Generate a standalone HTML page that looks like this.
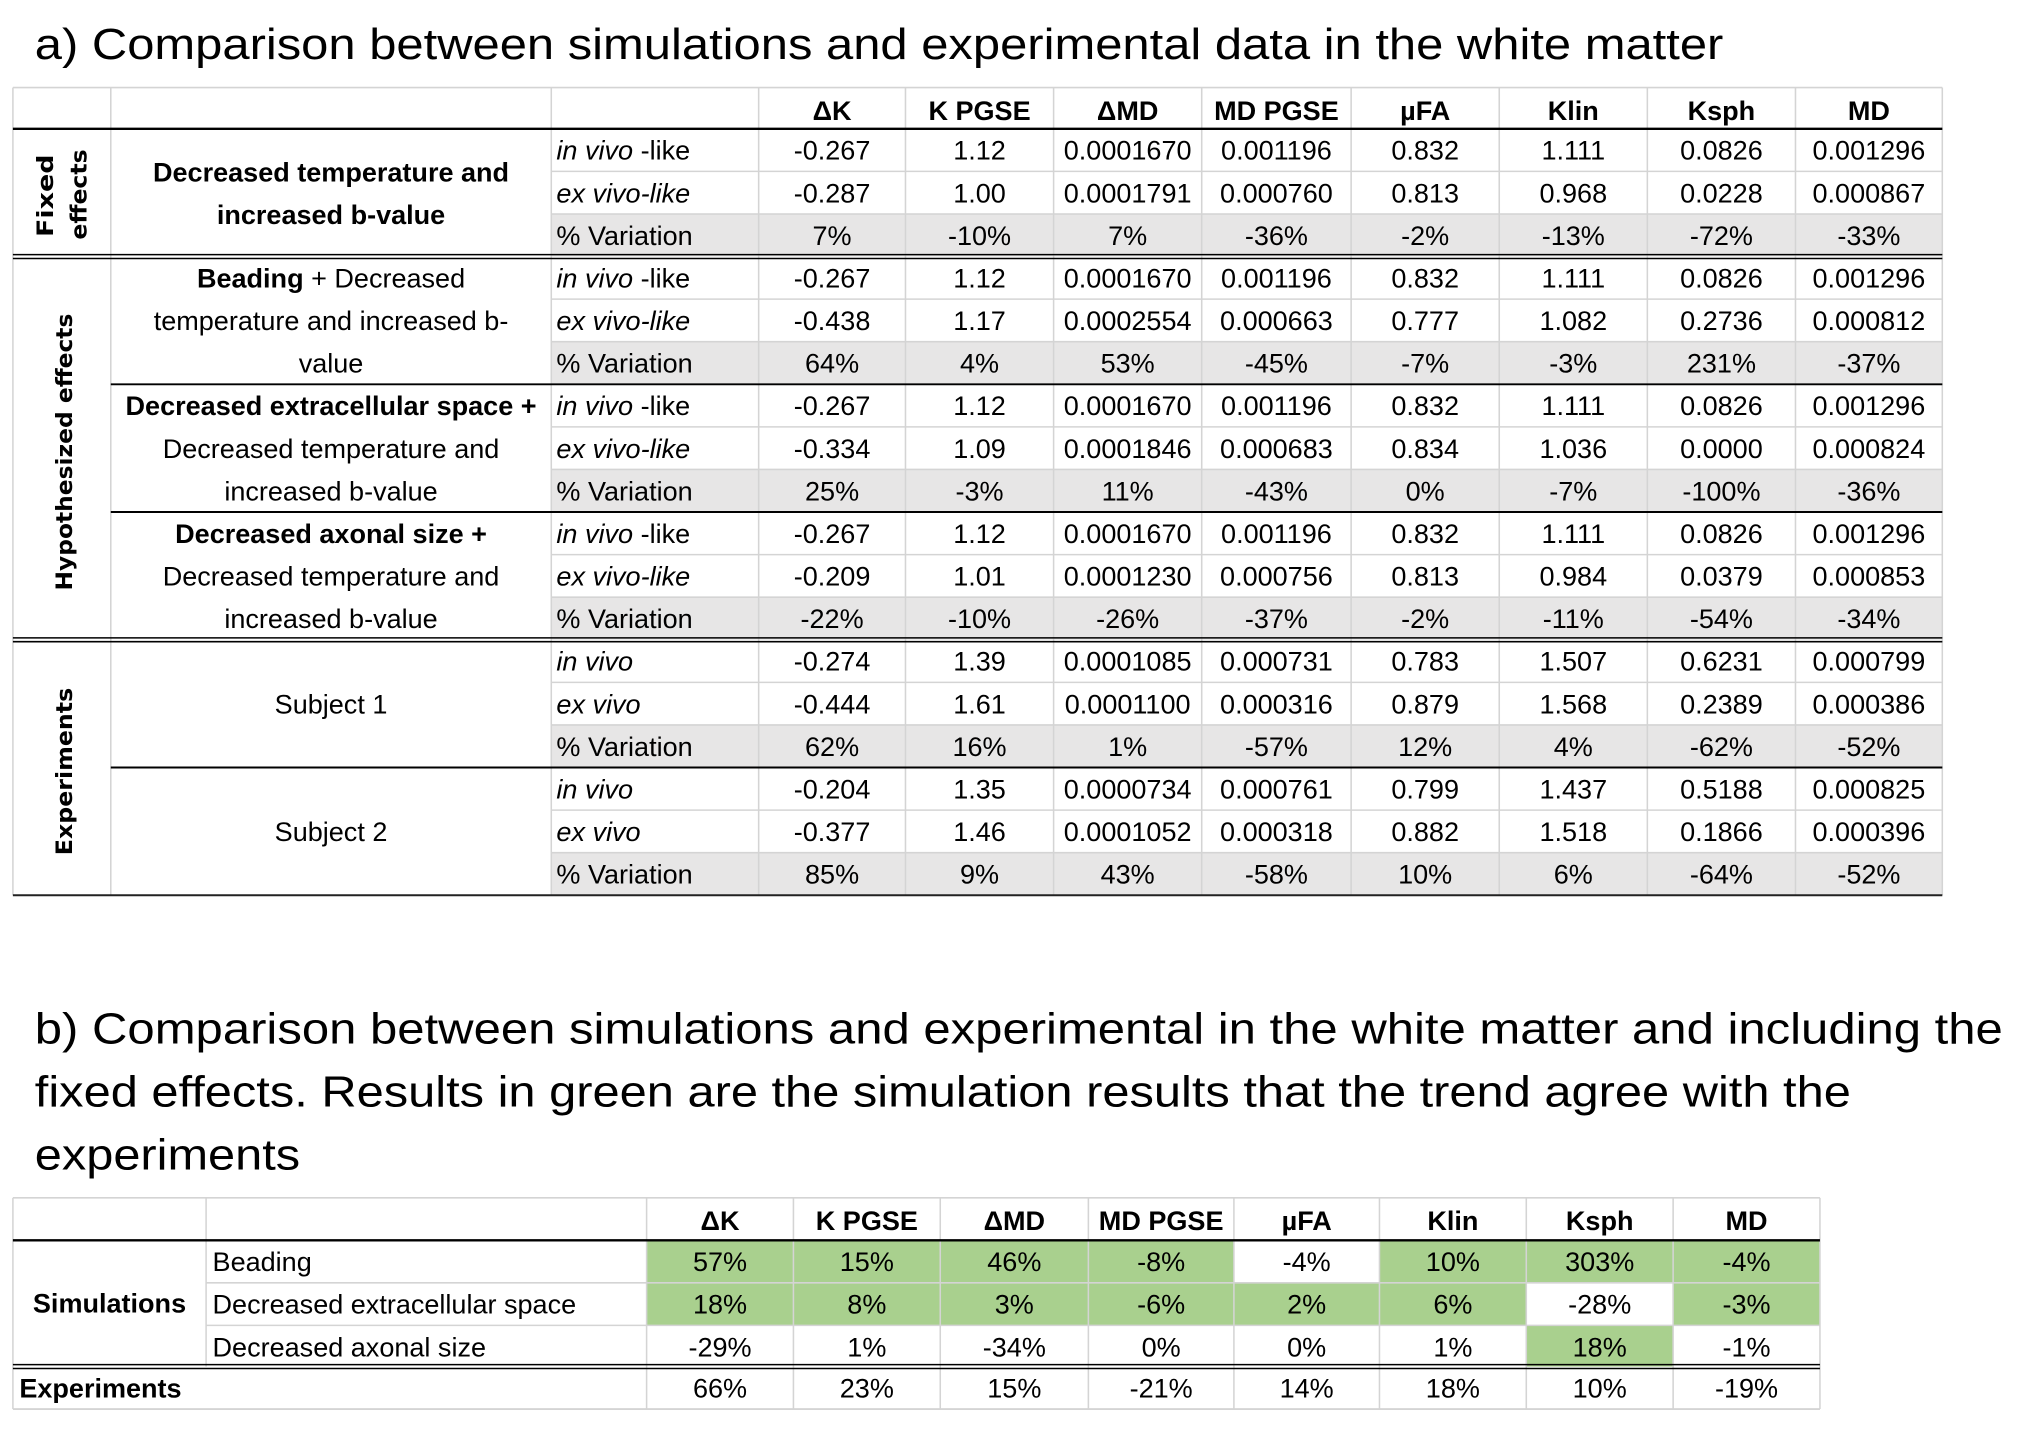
<!DOCTYPE html>
<html><head><meta charset="utf-8"><style>
html,body{margin:0;padding:0;background:#fff}
svg{display:block}
text{font-family:"Liberation Sans",Arial,sans-serif;fill:#000}
</style></head><body>
<svg id="s" width="2020" height="1441" viewBox="0 0 1568.3 1118.8" xmlns="http://www.w3.org/2000/svg"></svg>
<script>
const headers=["ΔK","K PGSE","ΔMD","MD PGSE","µFA","Klin","Ksph","MD"];
const rowLabelsA=["in vivo -like","ex vivo-like","% Variation","in vivo -like","ex vivo-like","% Variation","in vivo -like","ex vivo-like","% Variation","in vivo -like","ex vivo-like","% Variation","in vivo","ex vivo","% Variation","in vivo","ex vivo","% Variation"];
const valuesA=[
["-0.267","1.12","0.0001670","0.001196","0.832","1.111","0.0826","0.001296"],
["-0.287","1.00","0.0001791","0.000760","0.813","0.968","0.0228","0.000867"],
["7%","-10%","7%","-36%","-2%","-13%","-72%","-33%"],
["-0.267","1.12","0.0001670","0.001196","0.832","1.111","0.0826","0.001296"],
["-0.438","1.17","0.0002554","0.000663","0.777","1.082","0.2736","0.000812"],
["64%","4%","53%","-45%","-7%","-3%","231%","-37%"],
["-0.267","1.12","0.0001670","0.001196","0.832","1.111","0.0826","0.001296"],
["-0.334","1.09","0.0001846","0.000683","0.834","1.036","0.0000","0.000824"],
["25%","-3%","11%","-43%","0%","-7%","-100%","-36%"],
["-0.267","1.12","0.0001670","0.001196","0.832","1.111","0.0826","0.001296"],
["-0.209","1.01","0.0001230","0.000756","0.813","0.984","0.0379","0.000853"],
["-22%","-10%","-26%","-37%","-2%","-11%","-54%","-34%"],
["-0.274","1.39","0.0001085","0.000731","0.783","1.507","0.6231","0.000799"],
["-0.444","1.61","0.0001100","0.000316","0.879","1.568","0.2389","0.000386"],
["62%","16%","1%","-57%","12%","4%","-62%","-52%"],
["-0.204","1.35","0.0000734","0.000761","0.799","1.437","0.5188","0.000825"],
["-0.377","1.46","0.0001052","0.000318","0.882","1.518","0.1866","0.000396"],
["85%","9%","43%","-58%","10%","6%","-64%","-52%"]];
const rowLabelsB=["Beading","Decreased extracellular space","Decreased axonal size"];
const valuesB=[
["57%","15%","46%","-8%","-4%","10%","303%","-4%"],
["18%","8%","3%","-6%","2%","6%","-28%","-3%"],
["-29%","1%","-34%","0%","0%","1%","18%","-1%"],
["66%","23%","15%","-21%","14%","18%","10%","-19%"]];
const greenB=[[1,1,1,1,0,1,1,1],[1,1,1,1,1,1,0,1],[0,0,0,0,0,0,1,0]];

const svg=document.getElementById('s');const NS="http://www.w3.org/2000/svg";
function el(tag,attrs,txt){const e=document.createElementNS(NS,tag);for(const k in attrs)e.setAttribute(k,attrs[k]);if(txt!==undefined)e.textContent=txt;svg.appendChild(e);return e;}
function line(x1,y1,x2,y2,c,w){return el('line',{x1,y1,x2,y2,stroke:c,'stroke-width':w});}
const G="#d4d4d4";const FS=21;
let t=el('text',{x:27,y:46,'font-size':34,textLength:1311,lengthAdjust:'spacingAndGlyphs'},"a) Comparison between simulations and experimental data in the white matter");


const bl=["b) Comparison between simulations and experimental in the white matter and including the","fixed effects. Results in green are the simulation results that the trend agree with the","experiments"];
const blw=[1528,1410,206];
bl.forEach((s,i)=>{const e=el('text',{x:27,y:810+i*49,'font-size':34,textLength:blw[i],lengthAdjust:'spacingAndGlyphs'},s);

});

const colA=[10,86,428,589,703,818,933,1049,1164,1279,1394,1508];
const topA=68,hb=100,rh=33.06;
const ry=r=>hb+r*rh;
for(let r=0;r<18;r++){ if(r%3==2){const g=el('rect',{x:428,y:ry(r),width:1080,height:rh,fill:'#e7e6e6'});

}}
line(10,topA,1508,topA,G,1.2);
for(let r=0;r<18;r++){ if(r%3!=2) line(428,ry(r+1),1508,ry(r+1),G,1.2); }
colA.forEach((x)=>line(x,topA,x,ry(18),G,1.2));
line(10,hb,1508,hb,'#000',1.8);
[3,12].forEach(r=>{line(10,ry(r)-1.5,1508,ry(r)-1.5,'#000',1.2);line(10,ry(r)+1.5,1508,ry(r)+1.5,'#000',1.2);});
[6,9,15].forEach(r=>line(86,ry(r),1508,ry(r),'#000',1.5));
line(10,ry(18),1508,ry(18),'#222',1.5);
headers.forEach((h,i)=>{const e=el('text',{x:(colA[i+3]+colA[i+4])/2,y:93,'font-size':FS,'font-weight':'bold','text-anchor':'middle'},h);

});
rowLabelsA.forEach((s,r)=>{const it=s.indexOf('vivo')>=0;const e=el('text',{x:432,y:ry(r)+24,'font-size':FS});


if(it){const m=s.match(/^(in vivo|ex vivo)(.*)$/);const a=document.createElementNS(NS,'tspan');a.setAttribute('font-style','italic');a.textContent=m[1];e.appendChild(a);if(m[2]){const b=document.createElementNS(NS,'tspan');b.setAttribute('font-style',s.startsWith('ex')?'italic':'normal');b.textContent=m[2];e.appendChild(b);}}else e.textContent=s;});
valuesA.forEach((row,r)=>row.forEach((v,c)=>{const e=el('text',{x:(colA[c+3]+colA[c+4])/2,y:ry(r)+24,'font-size':FS,'text-anchor':'middle'},v);

}));
function gl(lines,r0){lines.forEach((L,i)=>{const e=el('text',{x:257,y:ry(r0+i)+24,'font-size':FS,'text-anchor':'middle'});


L.forEach(([s,b])=>{const sp=document.createElementNS(NS,'tspan');if(b)sp.setAttribute('font-weight','bold');sp.textContent=s;e.appendChild(sp);});});}
el('text',{x:257,y:141,'font-size':FS,'font-weight':'bold','text-anchor':'middle'},"Decreased temperature and");
el('text',{x:257,y:174,'font-size':FS,'font-weight':'bold','text-anchor':'middle'},"increased b-value");
gl([[["Beading",1],[" + Decreased",0]],[["temperature and increased b-",0]],[["value",0]]],3);
gl([[["Decreased extracellular space +",1]],[["Decreased temperature and",0]],[["increased b-value",0]]],6);
gl([[["Decreased axonal size +",1]],[["Decreased temperature and",0]],[["increased b-value",0]]],9);
gl([[["Subject 1",0]]],13);gl([[["Subject 2",0]]],16);
function vl(s,x,y,len){const e=el('text',{x:0,y:0,'font-size':17,'font-weight':'bold','text-anchor':'middle',transform:`translate(${x},${y}) rotate(-90)`,textLength:len,lengthAdjust:'spacingAndGlyphs',style:'font-family:"DejaVu Sans",sans-serif'},s);

}
vl("Fixed",41,152,64);vl("effects",67,151,70);vl("Hypothesized effects",56,351,215);vl("Experiments",56,599,130);

const colB=[10,160,502,616,730,845,958,1071,1185,1299,1413];
const rB=[930,963,996,1029,1061,1094];
greenB.forEach((row,r)=>row.forEach((g,c)=>{if(g){const e=el('rect',{x:colB[c+2],y:rB[r+1],width:colB[c+3]-colB[c+2],height:rB[r+2]-rB[r+1],fill:'#a9d08e'});

}}));
line(10,930,1413,930,G,1.2);
line(160,996,1413,996,G,1.2);line(160,1029,1413,1029,G,1.2);
colB.forEach((x,i)=>{ if(i==1) line(x,930,x,1061,G,1.2); else line(x,930,x,1094,G,1.2);});
line(10,963,1413,963,'#000',1.8);
line(10,rB[4]-1.5,1413,rB[4]-1.5,'#000',1.2);line(10,rB[4]+1.5,1413,rB[4]+1.5,'#000',1.2);
line(10,1094,1413,1094,G,1.5);
headers.forEach((h,i)=>{const e=el('text',{x:(colB[i+2]+colB[i+3])/2,y:955,'font-size':FS,'font-weight':'bold','text-anchor':'middle'},h);

});
rowLabelsB.forEach((s,r)=>{const e=el('text',{x:165,y:rB[r+1]+24,'font-size':FS},s);

});
el('text',{x:85,y:1019,'font-size':FS,'font-weight':'bold','text-anchor':'middle'},"Simulations");
el('text',{x:15,y:1085,'font-size':FS,'font-weight':'bold'},"Experiments");
valuesB.forEach((row,r)=>row.forEach((v,c)=>{const e=el('text',{x:(colB[c+2]+colB[c+3])/2,y:rB[r+1]+24,'font-size':FS,'text-anchor':'middle'},v);

}));
</script>
</body></html>
